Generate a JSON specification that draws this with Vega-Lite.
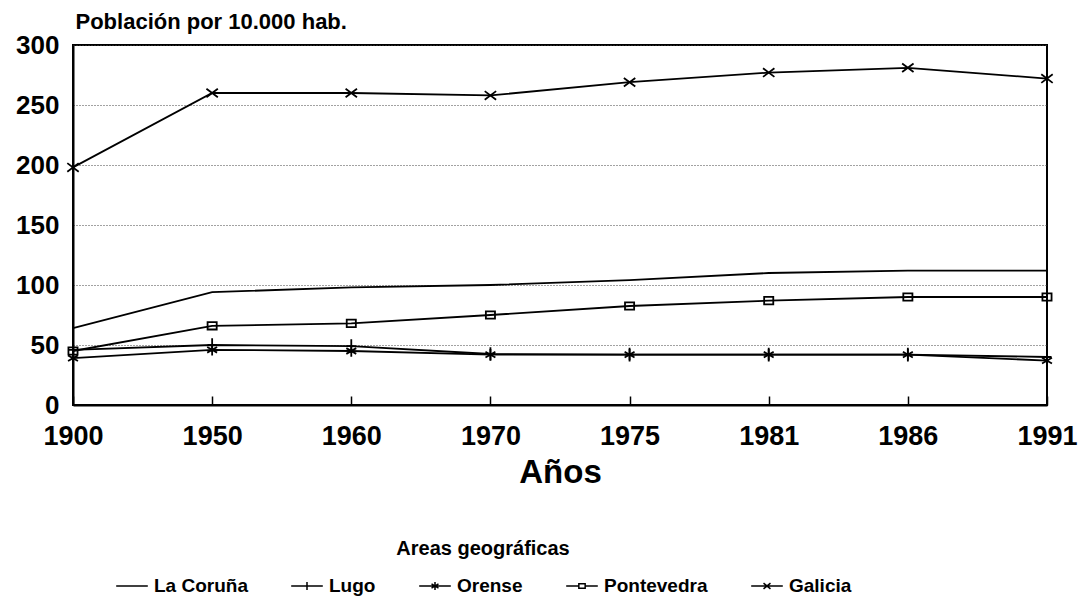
{
  "$schema": "https://vega.github.io/schema/vega-lite/v6.json",
  "width": 974,
  "height": 360,
  "autosize": {"type": "none"},
  "padding": {"left": 73, "top": 45, "right": 31, "bottom": 199},
  "background": "white",
  "config": {
    "font": "Liberation Sans",
    "view": {"stroke": "black", "strokeWidth": 2},
    "axis": {"labelFont": "Liberation Sans", "titleFont": "Liberation Sans", "labelColor": "black", "titleColor": "black", "labelFontWeight": "bold", "titleFontWeight": "bold"},
    "legend": {"labelFont": "Liberation Sans", "titleFont": "Liberation Sans", "labelColor": "black", "titleColor": "black"}
  },
  "data": {
    "values": [
      {"area": "La Coruña", "year": "1900", "value": 64},
      {"area": "La Coruña", "year": "1950", "value": 94},
      {"area": "La Coruña", "year": "1960", "value": 98},
      {"area": "La Coruña", "year": "1970", "value": 100},
      {"area": "La Coruña", "year": "1975", "value": 104},
      {"area": "La Coruña", "year": "1981", "value": 110},
      {"area": "La Coruña", "year": "1986", "value": 112},
      {"area": "La Coruña", "year": "1991", "value": 112},
      {"area": "Lugo", "year": "1900", "value": 46},
      {"area": "Lugo", "year": "1950", "value": 50},
      {"area": "Lugo", "year": "1960", "value": 49},
      {"area": "Lugo", "year": "1970", "value": 42.5},
      {"area": "Lugo", "year": "1975", "value": 42},
      {"area": "Lugo", "year": "1981", "value": 42},
      {"area": "Lugo", "year": "1986", "value": 42},
      {"area": "Lugo", "year": "1991", "value": 40},
      {"area": "Orense", "year": "1900", "value": 39},
      {"area": "Orense", "year": "1950", "value": 46},
      {"area": "Orense", "year": "1960", "value": 45},
      {"area": "Orense", "year": "1970", "value": 42},
      {"area": "Orense", "year": "1975", "value": 42},
      {"area": "Orense", "year": "1981", "value": 42},
      {"area": "Orense", "year": "1986", "value": 42},
      {"area": "Orense", "year": "1991", "value": 37},
      {"area": "Pontevedra", "year": "1900", "value": 45},
      {"area": "Pontevedra", "year": "1950", "value": 66},
      {"area": "Pontevedra", "year": "1960", "value": 68},
      {"area": "Pontevedra", "year": "1970", "value": 75},
      {"area": "Pontevedra", "year": "1975", "value": 82.5},
      {"area": "Pontevedra", "year": "1981", "value": 87},
      {"area": "Pontevedra", "year": "1986", "value": 90},
      {"area": "Pontevedra", "year": "1991", "value": 90},
      {"area": "Galicia", "year": "1900", "value": 198},
      {"area": "Galicia", "year": "1950", "value": 260},
      {"area": "Galicia", "year": "1960", "value": 260},
      {"area": "Galicia", "year": "1970", "value": 258},
      {"area": "Galicia", "year": "1975", "value": 269},
      {"area": "Galicia", "year": "1981", "value": 277},
      {"area": "Galicia", "year": "1986", "value": 281},
      {"area": "Galicia", "year": "1991", "value": 272}
    ]
  },
  "encoding": {
    "x": {
      "field": "year", "type": "ordinal",
      "scale": {"type": "point", "padding": 0},
      "axis": {"title": "Años", "titleFontSize": 33, "titlePadding": 7, "labelFontSize": 27, "labelAngle": 0, "labelPadding": 27, "domainColor": "black", "domainWidth": 2, "ticks": true, "tickColor": "black", "tickSize": -9, "tickWidth": 1.5, "grid": false}
    },
    "y": {
      "field": "value", "type": "quantitative",
      "scale": {"domain": [0, 300], "nice": false},
      "axis": {"title": "Población por 10.000 hab.", "titleAngle": 0, "titleAlign": "left", "titleBaseline": "middle", "titleX": 2, "titleY": -24, "titleFontSize": 22, "values": [0, 50, 100, 150, 200, 250, 300], "labelFontSize": 26, "labelPadding": 14, "labelOffset": 0, "ticks": false, "domainColor": "black", "domainWidth": 2, "gridColor": "#444", "gridDash": [1, 2], "gridWidth": 1}
    }
  },
  "layer": [
    {
      "mark": {"type": "line", "color": "black", "strokeWidth": 1.8},
      "encoding": {"detail": {"field": "area"}}
    },
    {
      "transform": [{"filter": "datum.area != 'La Coruña'"}],
      "mark": {"type": "point", "filled": false, "color": "black", "strokeWidth": 1.8, "size": 130, "opacity": 1},
      "encoding": {
        "shape": {
          "field": "area", "type": "nominal", "legend": null,
          "scale": {
            "domain": ["Lugo", "Orense", "Pontevedra", "Galicia"],
            "range": ["M-0.8,0L0.8,0M0,-1.2L0,1.2", "M0,-1L0,1M-0.87,-0.5L0.87,0.5M-0.87,0.5L0.87,-0.5", "M-0.8,-0.65H0.8V0.65H-0.8Z", "M-1,-0.75L1,0.75M-1,0.75L1,-0.75"]
          }
        }
      }
    },
    {
      "transform": [{"filter": "datum.value < 0"}],
      "mark": {"type": "point", "filled": false, "color": "black", "strokeWidth": 1.5, "opacity": 1},
      "encoding": {
        "shape": {
          "field": "area", "type": "nominal",
          "scale": {
            "domain": ["La Coruña", "Lugo", "Orense", "Pontevedra", "Galicia"],
            "range": ["M-1,0L1,0", "M-1,0L1,0M0,-0.25L0,0.25", "M-1,0L1,0M0,-0.25L0,0.25M-0.22,-0.13L0.22,0.13M-0.22,0.13L0.22,-0.13", "M-1,0L-0.2,0M0.2,0L1,0M-0.2,-0.14H0.2V0.14H-0.2Z", "M-1,0L1,0M-0.22,-0.18L0.22,0.18M-0.22,0.18L0.22,-0.18"]
          },
          "legend": {
            "title": "Areas geográficas",
            "orient": "none",
            "legendX": 42,
            "legendY": 494,
            "direction": "horizontal",
            "titleAnchor": "middle",
            "titleFontSize": 20,
            "titleFontWeight": "bold",
            "titlePadding": 10,
            "labelFontSize": 19,
            "labelFontWeight": "bold",
            "labelOffset": 5,
            "symbolSize": 1000,
            "symbolStrokeWidth": 1.5,
            "symbolStrokeColor": "black",
            "symbolFillColor": "transparent",
            "symbolOpacity": 1,
            "columnPadding": 40
          }
        }
      }
    }
  ],
  "resolve": {"scale": {"shape": "independent"}}
}
